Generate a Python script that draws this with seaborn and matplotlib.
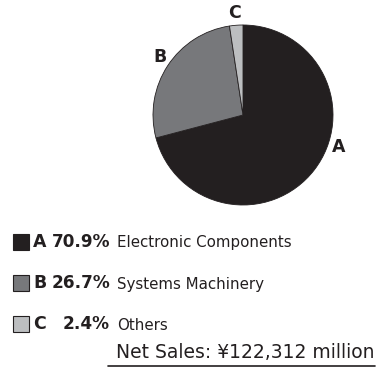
import matplotlib
matplotlib.use("Agg")
import matplotlib.pyplot as plt
import seaborn as sns
from matplotlib.patches import Rectangle

sns.set_theme(style="white")
plt.rcParams['font.family'] = ['DejaVu Sans']

letters = ["A", "B", "C"]
shares = [70.9, 26.7, 2.4]
segments = ["Electronic Components", "Systems Machinery", "Others"]
colors = ["#231f20", "#77787b", "#bcbec0"]
total_label = "Net Sales: \u00a5122,312 million"

W, H = 377, 370
fig = plt.figure(figsize=(W / 100, H / 100), dpi=100)
fig.patch.set_facecolor("white")

# pie axes: centre (243,115) px, radius 90 px
cx, cy, r = 243, 115, 90
ax = fig.add_axes([(cx - r) / W, (H - cy - r) / H, 2 * r / W, 2 * r / H])
wedges, _ = ax.pie(shares, colors=colors, startangle=90, counterclock=False,
                   wedgeprops=dict(edgecolor="#231f20", linewidth=0.6))
label_pos = [(1.06, -0.36), (-0.92, 0.64), (-0.09, 1.13)]
for L, (lx, ly) in zip(letters, label_pos):
    ax.text(lx, ly, L, fontsize=12.5, fontweight="bold", color="#231f20",
            ha="center", va="center", clip_on=False)
ax.set_aspect("equal")
ax.set_xlim(-1, 1)
ax.set_ylim(-1, 1)
ax.axis("off")

# legend overlay in pixel coordinates
lax = fig.add_axes([0, 0, 1, 1])
lax.set_xlim(0, W)
lax.set_ylim(H, 0)
lax.axis("off")

row_y = [242, 283, 324]
for i, (L, s, seg, c) in enumerate(zip(letters, shares, segments, colors)):
    y = row_y[i]
    lax.add_patch(Rectangle((12.5, y - 8), 16, 15.5, facecolor=c, edgecolor="#231f20", linewidth=0.8))
    lax.text(33, y, L, fontsize=12.5, fontweight="bold", color="#231f20", va="center", ha="left")
    lax.text(110, y, f"{s:.1f}%", fontsize=12.2, fontweight="bold", color="#231f20", va="center", ha="right")
    lax.text(117, y + 1, seg, fontsize=10.8, color="#231f20", va="center", ha="left")

lax.text(374, 353, total_label, fontsize=13.5, color="#231f20", va="center", ha="right")
lax.plot([108, 375], [366, 366], color="#231f20", linewidth=1.2)

fig.savefig("out.png", dpi=100, facecolor="white")
